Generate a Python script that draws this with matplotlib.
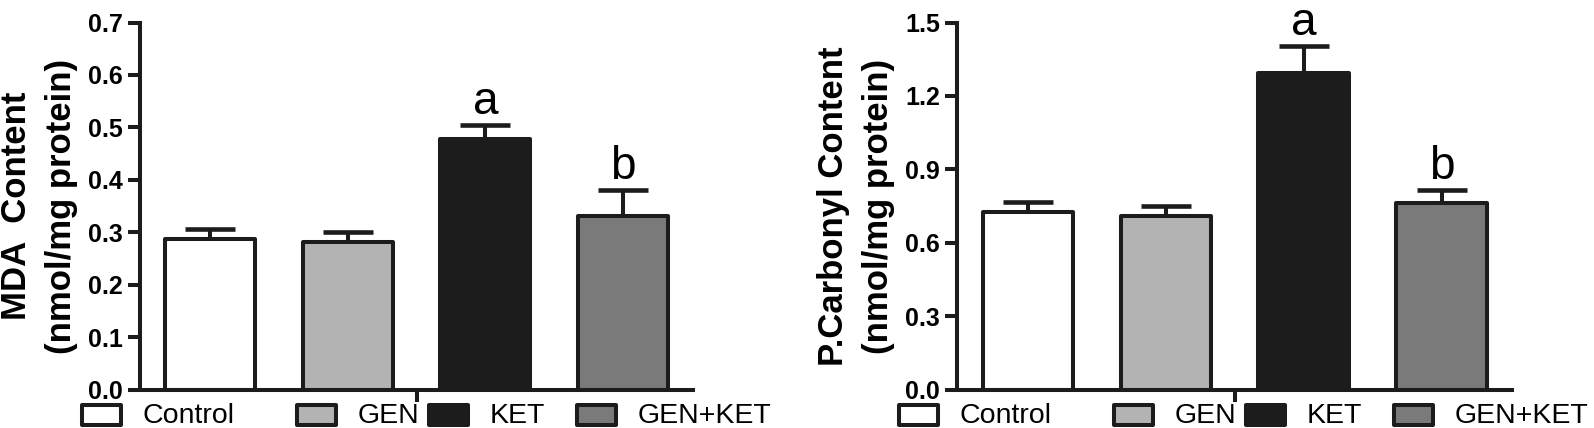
import matplotlib
matplotlib.use("Agg")
import matplotlib.pyplot as plt
from matplotlib.patches import Rectangle
import numpy as np

plt.rcParams['font.family'] = ['Liberation Sans', 'DejaVu Sans']

# groups and fill colours
groups = ["Control", "GEN", "KET", "GEN+KET"]
colors = ["#ffffff", "#b3b3b3", "#1c1c1c", "#7a7a7a"]

# MDA panel (mean, SEM up only)
mda_mean = [0.287, 0.282, 0.477, 0.331]
mda_err = [0.020, 0.018, 0.027, 0.049]
mda_letters = ["", "", "a", "b"]

# protein carbonyl panel
carb_mean = [0.726, 0.710, 1.295, 0.761]
carb_err = [0.041, 0.038, 0.109, 0.055]
carb_letters = ["", "", "a", "b"]

W, H = 1594, 428
EDGE = "#1c1c1c"
LW = 2.9

fig = plt.figure(figsize=(W / 100, H / 100), dpi=100)


def panel(rect, means, errs, letters, ymax, ystep, ylabel):
    ax = fig.add_axes(rect)
    x = np.arange(len(groups))
    ax.errorbar(x, means, yerr=[np.zeros(len(errs)), errs], fmt='none',
                ecolor=EDGE, elinewidth=LW, capsize=18, capthick=LW + 0.4, zorder=1)
    ax.bar(x, means, width=0.655, color=colors, edgecolor=EDGE,
           linewidth=LW, joinstyle='round', zorder=2)
    for xi, m, e, t in zip(x, means, errs, letters):
        if t:
            ax.annotate(t, (xi, m + e), xytext=(0, 8), textcoords='offset points',
                        ha='center', va='baseline', fontsize=33)
    ax.set_xlim(-0.515, len(groups) - 0.49)
    ax.set_ylim(0, ymax)
    ax.spines[['top', 'right']].set_visible(False)
    for s in ['left', 'bottom']:
        ax.spines[s].set_linewidth(LW)
        ax.spines[s].set_color(EDGE)
    ticks = np.arange(0, ymax + ystep / 2, ystep)
    ax.set_yticks(ticks)
    ax.set_yticklabels(["%.1f" % v for v in ticks], fontweight='bold', fontsize=18)
    ax.set_xticks([(len(groups) - 1) / 2])
    ax.set_xticklabels([""])
    ax.tick_params(axis='both', direction='out', length=8.6, width=LW,
                   color=EDGE, pad=3.4)
    ax.set_ylabel(ylabel, fontsize=25, fontweight='bold', linespacing=1.45)
    ax.yaxis.set_label_coords(-0.112, 0.5)

    # legend row under the axis
    x0 = rect[0] * W
    for off, c, g in zip([-60, 155, 287, 435], colors, groups):
        bx = x0 + off
        fig.add_artist(Rectangle(((bx + 2) / W, 3 / H), 39 / W, 20 / H,
                                 transform=fig.transFigure, facecolor=c,
                                 edgecolor=EDGE, linewidth=LW, joinstyle='round'))
        fig.text((bx + 63) / W, 5 / H, g, fontsize=20.5, ha='left', va='baseline')
    return ax


bottom = (H - 389.5) / H
height = 367 / H
panel([139.5 / W, bottom, 553.5 / W, height], mda_mean, mda_err, mda_letters,
      0.7, 0.1, "MDA  Content\n(nmol/mg protein)")
panel([956.7 / W, bottom, 555.3 / W, height], carb_mean, carb_err, carb_letters,
      1.5, 0.3, "P.Carbonyl Content\n(nmol/mg protein)")

fig.savefig("out.png", dpi=100)
